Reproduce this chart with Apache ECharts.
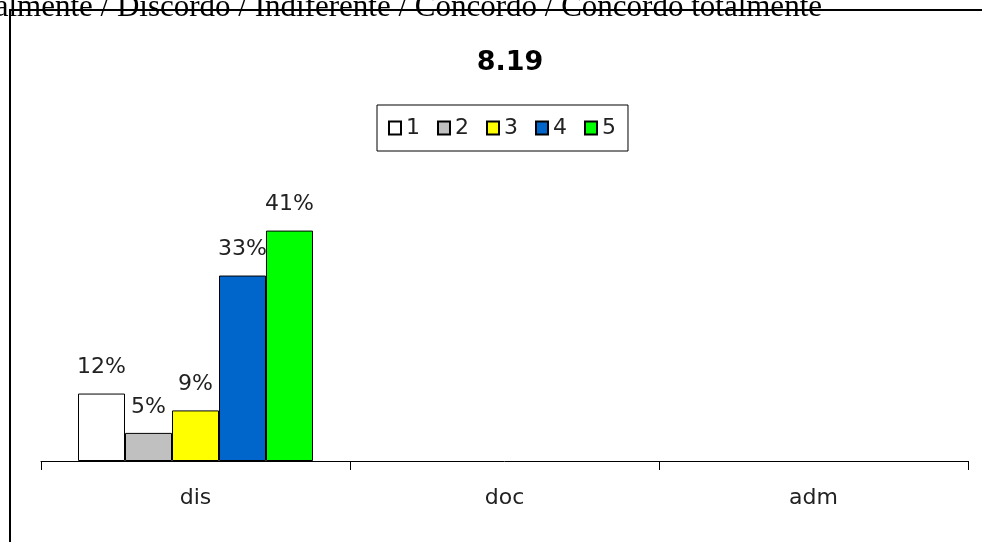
<!DOCTYPE html>
<html>
<head>
<meta charset="utf-8">
<script src="https://cdn.jsdelivr.net/npm/echarts@6/dist/echarts.min.js"></script>
<style>
html,body{margin:0;padding:0;background:#fff;}
#chart{width:982px;height:542px;}
</style>
</head>
<body>
<div id="chart"></div>
<script>
const headerText = 'Discordo totalmente / Discordo / Indiferente / Concordo / Concordo totalmente';
const chartTitle = '8.19';
const categories = ['dis', 'doc', 'adm'];
const seriesNames = ['1', '2', '3', '4', '5'];
const values1 = [12, '-', '-'];
const values2 = [5, '-', '-'];
const values3 = [9, '-', '-'];
const values4 = [33, '-', '-'];
const values5 = [41, '-', '-'];

const allValues = [values1, values2, values3, values4, values5];
const colors = ['#FFFFFF', '#C0C0C0', '#FFFF00', '#0066CC', '#00FF00'];
const FONT = 'DejaVu Sans';

const chart = echarts.init(document.getElementById('chart'));
chart.setOption({
  animation: false,
  backgroundColor: '#fff',
  graphic: [
    {
      type: 'rect',
      shape: { x: 10, y: 10, width: 1000, height: 600 },
      style: { fill: 'none', stroke: '#000', lineWidth: 2 },
      z: 0
    },
    {
      type: 'text',
      x: 822, y: 23,
      style: {
        text: headerText,
        font: '31px "Liberation Serif"',
        fill: '#000',
        align: 'right',
        verticalAlign: 'bottom'
      }
    }
  ],
  title: {
    text: chartTitle,
    left: 505,
    textAlign: 'center',
    top: 44,
    textStyle: { fontFamily: FONT, fontSize: 27, fontWeight: 'bold', color: '#000' }
  },
  legend: {
    left: 377,
    top: 105,
    orient: 'horizontal',
    padding: [12, 12, 12, 11],
    borderColor: '#000',
    borderWidth: 1,
    itemWidth: 12,
    itemHeight: 13,
    itemGap: 17,
    icon: 'rect',
    textStyle: { fontFamily: FONT, fontSize: 22, color: '#222' },
    data: seriesNames
  },
  grid: { left: 41, right: 14, top: 180, bottom: 81, containLabel: false },
  xAxis: {
    type: 'category',
    data: categories,
    axisLine: { lineStyle: { color: '#000', width: 1 } },
    axisTick: { show: true, length: 9, lineStyle: { color: '#000' } },
    axisLabel: { margin: 26, fontFamily: FONT, fontSize: 22, color: '#222' }
  },
  yAxis: {
    type: 'value',
    min: 0,
    max: 50,
    show: false,
    splitLine: { show: false }
  },
  series: allValues.map((vals, i) => ({
    name: seriesNames[i],
    type: 'bar',
    data: vals,
    barWidth: 47,
    barGap: '0%',
    itemStyle: { color: colors[i], borderColor: '#000', borderWidth: 1 },
    label: {
      show: true,
      position: 'top',
      distance: 15,
      formatter: '{c}%',
      fontFamily: FONT,
      fontSize: 22,
      color: '#222'
    }
  }))
});
</script>
</body>
</html>
